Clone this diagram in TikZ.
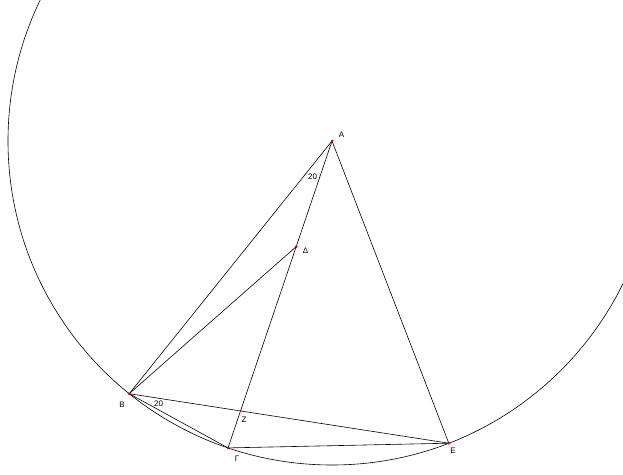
\documentclass[tikz,border=0pt]{standalone}
\usepackage{fontspec}
\setmainfont{Liberation Sans}
\usetikzlibrary{calc}

\tikzset{
    punkt/.style={circle, fill=red!85!black, inner sep=0pt, minimum size=3pt},
    etikett/.style={inner sep=0pt, font=\fontsize{8}{9}\selectfont},
}

\begin{document}
\begin{tikzpicture}[x=1pt, y=-1pt, line width=.6pt]
    \useasboundingbox (0,0) rectangle (623,474);
    \clip (0,0) rectangle (623,474);

    % Punkte.
    \coordinate (A) at (332,141);
    \coordinate (B) at (129.2,393.7);
    \coordinate (G) at (228,447.9);
    \coordinate (E) at (448.8,443.2);
    \coordinate (D) at (296.2,246.6);
    \coordinate (Z) at (intersection of A--G and B--E);

    % Kreis.
    \draw (A) circle[radius=324];

    % Linien.
    \draw (A) -- (B);
    \draw (A) -- (G);
    \draw (A) -- (E);
    \draw (B) -- (D);
    \draw (B) -- (E);
    \draw (B) -- (G);
    \draw (G) -- (E);

    % Markierungen.
    \foreach \p in {A,B,G,D,E}
    {
        \node[punkt] (dot\p) at (\p) {};
    }
    \node[punkt, minimum size=2pt] (dotZ) at (Z) {};

    % Beschriftung.
    \node[etikett] (labA) at (341.5,135) {A};
    \node[etikett] (labB) at (122,404.5) {B};
    \node[etikett] (labG) at (237,458.5) {Γ};
    \node[etikett] (labD) at (305.5,251) {Δ};
    \node[etikett] (labE) at (453,450.5) {E};
    \node[etikett] (labZ) at (244,419.5) {Z};
    \node[etikett] (winkelA) at (312.5,177) {20};
    \node[etikett] (winkelB) at (158.5,403.5) {20};
\end{tikzpicture}
\end{document}
